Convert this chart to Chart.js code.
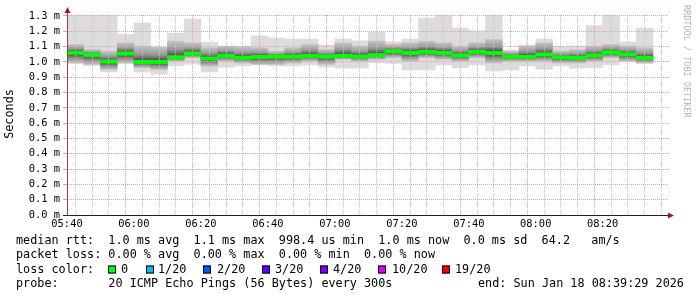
<!DOCTYPE html>
<html>
<head>
<meta charset="utf-8">
<script src="https://cdn.jsdelivr.net/npm/chart.js@4.4.1/dist/chart.umd.min.js"></script>
<style>
  html, body { margin: 0; padding: 0; background: #fff; }
  canvas { display: block; }
</style>
</head>
<body>
<canvas id="smoke" width="697" height="297"></canvas>
<script>
// one slot per 5 minute step (300s), start time of each slot
const slotStarts = [
  '05:40', '05:45', '05:50', '05:55', '06:00', '06:05', '06:10', '06:15', '06:20',
  '06:25', '06:30', '06:35', '06:40', '06:45', '06:50', '06:55', '07:00', '07:05',
  '07:10', '07:15', '07:20', '07:25', '07:30', '07:35', '07:40', '07:45', '07:50',
  '07:55', '08:00', '08:05', '08:10', '08:15', '08:20', '08:25', '08:30'
];

// ms values
const maxVals = [
  1.33, 1.33, 1.33, 1.18, 1.254, 1.094, 1.188, 1.28, 1.127, 1.094, 1.10, 1.17,
  1.156, 1.149, 1.149, 1.11, 1.149, 1.138, 1.193, 1.131, 1.149, 1.287, 1.33,
  1.221, 1.204, 1.33, 1.077, 1.11, 1.149, 1.10, 1.105, 1.236, 1.33, 1.131, 1.221
];
const minVals = [
  0.99, 0.975, 0.934, 0.99, 0.934, 0.92, 0.975, 0.985, 0.934, 0.965, 0.974, 0.985,
  0.974, 0.974, 0.98, 0.967, 0.959, 0.959, 0.996, 0.99, 0.947, 0.947, 0.98,
  0.962, 0.98, 0.941, 0.947, 0.974, 0.952, 0.974, 0.959, 0.963, 0.98, 1.003, 0.99
];
const upperVals = [
  1.114, 1.081, 1.07, 1.125, 1.103, 1.097, 1.136, 1.125, 1.092, 1.103, 1.097, 1.092,
  1.07, 1.092, 1.114, 1.081, 1.125, 1.103, 1.136, 1.114, 1.125, 1.136, 1.125,
  1.103, 1.125, 1.147, 1.07, 1.103, 1.125, 1.07, 1.081, 1.103, 1.114, 1.103, 1.092
];
const lowerVals = [
  0.993, 0.983, 0.95, 0.993, 0.962, 0.95, 1.005, 1.027, 0.972, 1.005, 0.993, 0.983,
  0.983, 0.993, 1.005, 0.983, 1.016, 1.005, 1.016, 1.027, 1.005, 1.027, 1.016,
  1.005, 1.027, 0.993, 1.005, 1.005, 1.005, 0.993, 0.993, 1.005, 1.027, 1.005, 0.993
];
const medianVals = [
  1.06, 1.046, 1.003, 1.055, 1.0, 1.0, 1.03, 1.055, 1.022, 1.04, 1.026, 1.033,
  1.035, 1.035, 1.04, 1.035, 1.04, 1.035, 1.044, 1.07, 1.059, 1.066, 1.059,
  1.042, 1.066, 1.059, 1.033, 1.033, 1.049, 1.03, 1.026, 1.042, 1.062, 1.049, 1.026
];

const xTickLabels = ['05:40', '06:00', '06:20', '06:40', '07:00', '07:20', '07:40', '08:00', '08:20'];
const yTickLabels = ['0.0 m', '0.1 m', '0.2 m', '0.3 m', '0.4 m', '0.5 m', '0.6 m',
  '0.7 m', '0.8 m', '0.9 m', '1.0 m', '1.1 m', '1.2 m', '1.3 m'];

const legendLines = [
  'median rtt:  1.0 ms avg  1.1 ms max  998.4 us min  1.0 ms now  0.0 ms sd  64.2   am/s',
  'packet loss: 0.00 % avg  0.00 % max  0.00 % min  0.00 % now',
  'loss color:',
  'probe:       20 ICMP Echo Pings (56 Bytes) every 300s'
];
const lossLabels = ['0', '1/20', '2/20', '3/20', '4/20', '10/20', '19/20'];
const lossColors = ['#00ff00', '#00b8ff', '#0059ff', '#5e00ff', '#7e00ff', '#dd00ff', '#ff0000'];
const endStamp = 'end: Sun Jan 18 08:39:29 2026';

const MONO = '"DejaVu Sans Mono", monospace';
const MEDIAN_HALF = 0.0095; // ~3px thick green median line
const MAJOR = '#eba0a0';
const MINOR = '#c4c4c4';

function toOffset(t) {
  const [h, m] = t.split(':').map(Number);
  return h * 60 + m - (5 * 60 + 40);
}
const centers = slotStarts.map(t => toOffset(t) + 2.5);

function innerFill(ctx) {
  const chart = ctx.chart;
  if (ctx.type !== 'data' || !chart.scales.y) return '#999999';
  const y = chart.scales.y;
  const i = ctx.dataIndex;
  const top = y.getPixelForValue(upperVals[i]);
  const bot = y.getPixelForValue(lowerVals[i]);
  const mid = y.getPixelForValue(medianVals[i]);
  if (!isFinite(top) || !isFinite(bot) || bot - top < 1) return '#999999';
  let t = (mid - top) / (bot - top);
  t = Math.min(0.9, Math.max(0.1, t));
  const g = chart.ctx.createLinearGradient(0, top, 0, bot);
  g.addColorStop(0, '#c4c4c4');
  g.addColorStop(t * 0.5, '#9a9a9a');
  g.addColorStop(t, '#3a3a3a');
  g.addColorStop(t + (1 - t) * 0.5, '#8a8a8a');
  g.addColorStop(1, '#c4c4c4');
  return g;
}

const decor = {
  id: 'rrdDecor',
  afterDraw(chart) {
    const c = chart.ctx;
    const a = chart.chartArea;

    // median line sits above the dotted grid, like rrdtool's LINE
    chart.getDatasetMeta(0).controller.draw();

    c.save();

    // axes + arrows
    c.lineWidth = 1;
    c.strokeStyle = '#8a4848';
    c.beginPath();
    c.moveTo(a.left + 0.5, a.bottom);
    c.lineTo(a.left + 0.5, 10);
    c.stroke();
    c.strokeStyle = '#202020';
    c.beginPath();
    c.moveTo(a.left - 4, a.bottom + 0.5);
    c.lineTo(a.right + 2, a.bottom + 0.5);
    c.stroke();
    c.fillStyle = '#9a2020';
    c.beginPath();
    c.moveTo(a.left + 0.5, 7);
    c.lineTo(a.left - 2.5, 13);
    c.lineTo(a.left + 3.5, 13);
    c.closePath();
    c.fill();
    c.beginPath();
    c.moveTo(a.right + 6, a.bottom + 0.5);
    c.lineTo(a.right, a.bottom - 2.5);
    c.lineTo(a.right, a.bottom + 3.5);
    c.closePath();
    c.fill();

    // axis title
    c.fillStyle = '#000';
    c.font = '11.8px ' + MONO;
    c.textBaseline = 'middle';
    c.save();
    c.translate(10, 114);
    c.rotate(-Math.PI / 2);
    c.textAlign = 'center';
    c.fillText('Seconds', 0, 0);
    c.restore();

    // watermark
    c.save();
    c.translate(686, 5);
    c.rotate(Math.PI / 2);
    c.textAlign = 'left';
    c.fillStyle = '#b4b4b4';
    c.font = '8.5px ' + MONO;
    c.fillText('RRDTOOL / TOBI OETIKER', 0, 0);
    c.restore();

    // legend block
    c.textAlign = 'left';
    c.fillStyle = '#000';
    c.font = '11.8px ' + MONO;
    const rows = [241, 255, 269.5, 284];
    legendLines.forEach((line, i) => c.fillText(line, 16, rows[i]));
    c.fillText(endStamp, 478, rows[3]);

    const boxX = [108, 146, 203, 262, 320, 378, 442];
    const textX = [121, 158, 217, 275, 333, 392, 455];
    lossLabels.forEach((lbl, i) => {
      c.fillStyle = lossColors[i];
      c.fillRect(boxX[i], rows[2] - 4, 8, 8);
      c.strokeStyle = '#000';
      c.strokeRect(boxX[i] + 0.5, rows[2] - 3.5, 7, 7);
      c.fillStyle = '#000';
      c.fillText(lbl, textX[i], rows[2]);
    });
    c.restore();
  }
};

const ctx = document.getElementById('smoke').getContext('2d');
new Chart(ctx, {
  type: 'bar',
  data: {
    datasets: [
      {
        label: 'median',
        data: centers.map((x, i) => ({ x, y: [medianVals[i] - MEDIAN_HALF, medianVals[i] + MEDIAN_HALF] })),
        backgroundColor: '#00ff00'
      },
      {
        label: 'inner',
        data: centers.map((x, i) => ({ x, y: [lowerVals[i], upperVals[i]] })),
        backgroundColor: innerFill
      },
      {
        label: 'range',
        data: centers.map((x, i) => ({ x, y: [minVals[i], maxVals[i]] })),
        backgroundColor: '#dcdcdc'
      }
    ]
  },
  options: {
    responsive: false,
    animation: false,
    devicePixelRatio: 1,
    layout: { padding: { left: 0, top: 15, right: 29, bottom: 0 } },
    datasets: {
      bar: { grouped: false, barPercentage: 1, categoryPercentage: 1, borderWidth: 0 }
    },
    plugins: {
      legend: { display: false },
      tooltip: { enabled: false }
    },
    scales: {
      x: {
        type: 'linear',
        min: 0,
        max: 179.5,
        offset: false,
        afterFit: s => { s.height = 82; },
        afterBuildTicks: s => {
          // a grid line every 5 minutes
          s.ticks = Array.from({ length: 36 }, (_, k) => ({ value: k * 5 }));
        },
        border: { display: false, dash: [1, 1] },
        grid: {
          z: 1,
          drawTicks: false,
          lineWidth: 1,
          color: c => (c.tick && c.tick.value % 20 === 0) ? MAJOR : MINOR
        },
        ticks: {
          autoSkip: false,
          maxRotation: 0,
          padding: 3,
          color: '#000',
          font: { family: MONO, size: 10.4 },
          callback: v => (v % 20 === 0 ? xTickLabels[v / 20] : '')
        }
      },
      y: {
        min: 0,
        max: 1.3065,
        afterFit: s => { s.width = 67; },
        afterBuildTicks: s => {
          s.ticks = yTickLabels.map((_, i) => ({ value: i / 10 }));
        },
        border: { display: false, dash: [1, 1] },
        grid: {
          z: 1,
          tickLength: 4,
          lineWidth: 1,
          color: MAJOR
        },
        ticks: {
          autoSkip: false,
          padding: 3,
          color: '#000',
          font: { family: MONO, size: 10.4 },
          callback: (v, i) => yTickLabels[i]
        }
      }
    }
  },
  plugins: [decor]
});
</script>
</body>
</html>
